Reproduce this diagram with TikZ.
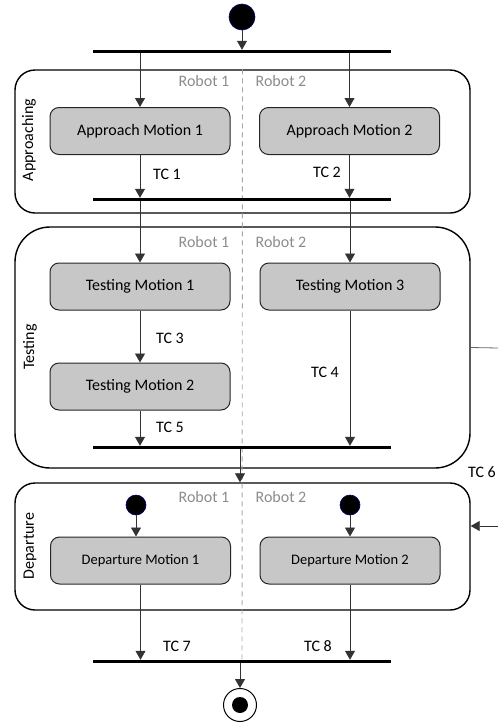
\documentclass[tikz,border=0pt]{standalone}
\usepackage{fontspec}
\setmainfont{Carlito}
\usetikzlibrary{arrows.meta}

\begin{document}
\begin{tikzpicture}[x=1pt,y=-1pt,
	phase/.style = {draw, line width=1.4pt, rounded corners=20pt, minimum width=455pt},
	motion/.style = {draw=black!85, fill=black!22, line width=1pt, rounded corners=9pt,
		minimum width=180pt, minimum height=47pt, font=\fontsize{16}{16}\selectfont},
	bar/.style = {fill=black, inner sep=0pt, minimum width=298pt, minimum height=3pt},
	dot/.style = {circle, fill=black, draw=blue!45!black, line width=0.6pt, inner sep=0pt},
	flow/.style = {draw=black!80, line width=0.8pt, -{Triangle[width=10pt,length=9pt]}},
	lane/.style = {draw=black!35, line width=0.9pt, dash pattern=on 5pt off 4pt},
	robot/.style = {text=black!45, font=\fontsize{16}{16}\selectfont},
	tc/.style = {font=\fontsize{16}{16}\selectfont},
	phaselabel/.style = {rotate=90, font=\fontsize{16}{16}\selectfont}]
	\useasboundingbox (0,0) rectangle (498,726);

	% phases
	\node[phase, minimum height=143pt] (approaching) at (242.5,141.5) {};
	\node[phase, minimum height=241pt, rounded corners=35pt] (testing) at (242.5,347.5) {};
	\node[phase, minimum height=127pt] (departure) at (242.5,546.5) {};
	\node[phaselabel] at (29,140) {Approaching};
	\node[phaselabel] at (30,347) {Testing};
	\node[phaselabel] at (30,546) {Departure};

	% swimlanes
	\draw[lane] (approaching.north) -- (242,660);
	\foreach \y/\n in {81/a, 242/t, 497/d} {
		\node[robot] (r1\n) at (204,\y) {Robot 1};
		\node[robot] (r2\n) at (281,\y) {Robot 2};
	}

	% bars
	\node[bar] (fork)  at (242,51.5) {};
	\node[bar] (join1) at (242,199.5) {};
	\node[bar] (join2) at (242,447.5) {};
	\node[bar] (join3) at (242,661.5) {};

	% start / end
	\node[dot, minimum size=26pt] (start) at (242,17) {};
	\node[circle, draw, line width=1pt, minimum size=33pt] (final) at (240,705) {};
	\node[circle, fill=black, minimum size=16pt, inner sep=0pt] (finaldot) at (final) {};
	\node[dot, minimum size=20pt] (d1start) at (136,505) {};
	\node[dot, minimum size=20pt] (d2start) at (350,505) {};

	% motions
	\node[motion] (am1) at (140,131) {Approach Motion 1};
	\node[motion] (am2) at (349.5,131) {Approach Motion 2};
	\node[motion] (tm1) at (140,286.5) {Testing Motion 1};
	\node[motion] (tm3) at (350,286.5) {Testing Motion 3};
	\node[motion] (tm2) at (140,386.5) {Testing Motion 2};
	\node[motion, font=\fontsize{14.5}{14.5}\selectfont] (dm1) at (140.5,560.5) {Departure Motion 1};
	\node[motion, font=\fontsize{14.5}{14.5}\selectfont] (dm2) at (350,560.5) {Departure Motion 2};

	% transitions
	\draw[flow] (start) -- (fork.north);
	\draw[flow] (am1.north |- fork.south) -- (am1.north);
	\draw[flow] (am2.north |- fork.south) -- (am2.north);
	\draw[flow] (am1) -- (am1.south |- join1.north);
	\draw[flow] (am2) -- (am2.south |- join1.north);
	\draw[flow] (tm1.north |- join1.south) -- (tm1.north);
	\draw[flow] (tm3.north |- join1.south) -- (tm3.north);
	\draw[flow] (tm1) -- (tm2);
	\draw[flow] (tm2) -- (tm2.south |- join2.north);
	\draw[flow] (tm3) -- (tm3.south |- join2.north);
	\draw[flow] (join2.south -| 240,0) -- (departure.north -| 240,0);
	\draw[flow] (d1start) -- (d1start |- dm1.north);
	\draw[flow] (d2start) -- (d2start |- dm2.north);
	\draw[flow] (dm1) -- (dm1.south |- join3.north);
	\draw[flow] (dm2) -- (dm2.south |- join3.north);
	\draw[flow] (join3.south -| final) -- (final);

	% TC 6 leaves testing and comes back into departure
	\coordinate (tc6out) at (498,348);
	\coordinate (tc6in) at (498,526);
	\draw[draw=black!60, line width=0.8pt] (testing.east) -- (tc6out);
	\draw[flow] (tc6in) -- (departure.east |- tc6in);

	\node[tc] (tc1) at (167,174) {TC 1};
	\node[tc] (tc2) at (327,172) {TC 2};
	\node[tc] (tc3) at (170,338) {TC 3};
	\node[tc] (tc4) at (325,372) {TC 4};
	\node[tc] (tc5) at (170,427) {TC 5};
	\node[tc] (tc6) at (482,472) {TC 6};
	\node[tc] (tc7) at (177,646) {TC 7};
	\node[tc] (tc8) at (318,646) {TC 8};
\end{tikzpicture}
\end{document}
